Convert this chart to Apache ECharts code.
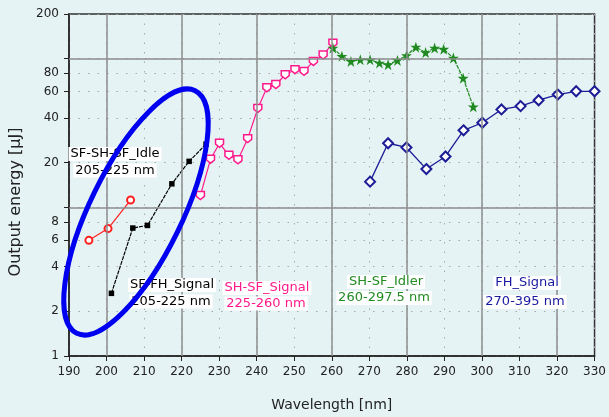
<!DOCTYPE html>
<html><head><meta charset="utf-8">
<script src="https://cdn.jsdelivr.net/npm/echarts@6/dist/echarts.min.js"></script>
<style>html,body{margin:0;padding:0;background:#e6f3f5;}#c{width:609px;height:417px;}</style>
</head><body><div id="c"></div>
<script>
// ---- data ----
const redX = [195.3, 200.4, 206.4];
const redY = [6.0, 7.2, 11.2];
const blackX = [201.3, 207.0, 210.9, 217.4, 222.0, 226.5];
const blackY = [2.64, 7.26, 7.56, 14.4, 20.4, 26.6];
const pinkX = [225.0, 227.7, 230.1, 232.6, 235.0, 237.6, 240.3, 242.7, 245.1, 247.6, 250.2, 252.6, 255.1, 257.7, 260.3];
const pinkY = [12.0, 21.1, 27.0, 22.4, 20.9, 29.0, 46.3, 63.7, 67, 78, 84.4, 82.2, 95.9, 106, 127];
const greenX = [260.3, 262.7, 265.1, 267.6, 270.2, 272.7, 275.0, 277.5, 279.9, 282.4, 285.0, 287.4, 289.8, 292.4, 295.0, 297.7];
const greenY = [118, 104, 96, 98.5, 98.5, 93.6, 91.2, 97.5, 105, 119.7, 110, 118, 116, 101, 74, 47.5];
const navyX = [270.2, 275.0, 279.9, 285.2, 290.3, 295.1, 300.1, 305.2, 310.3, 315.1, 320.2, 325.1, 330.0];
const navyY = [14.9, 27.0, 25.3, 18.1, 22.0, 33.0, 37.1, 45.6, 48.0, 52.6, 57.4, 60.4, 60.4];
const yLabelValues = [1, 2, 4, 6, 8, 20, 40, 60, 80, 200];
const yTickValues = [1, 2, 4, 6, 8, 10, 20, 40, 60, 80, 100, 200];
const yMajorLines = [10, 100];
const xMajorLines = [200, 220, 240, 260, 280, 300, 320];

const pairs = (xs, ys) => xs.map((x, i) => [x, ys[i]]);
const FONT = '"DejaVu Sans", sans-serif';
const star = 'path://M5,0L6.2,3.6L10,3.6L6.9,5.8L8.1,9.5L5,7.2L1.9,9.5L3.1,5.8L0,3.6L3.8,3.6Z';
const shield = 'path://M0,0L10,0L10,6L5,10L0,6Z';

const chart = echarts.init(document.getElementById('c'), null, {renderer: 'canvas'});

function lbl(text, x, y, color) {
  return {type: 'text', x: x, y: y, z: 20, silent: true,
    style: {text: text, fill: color, font: '13px ' + FONT, align: 'center', verticalAlign: 'middle',
      backgroundColor: '#ffffff', padding: [1, 2, 0, 2]}};
}

const dotted = {color: '#a8a8a8', width: 1, type: [1.5, 8]};

chart.setOption({
  backgroundColor: '#e6f3f5',
  animation: false,
  grid: {left: 68, right: 11, top: 14, bottom: 59, show: true, borderColor: '#333', borderWidth: 1.5, backgroundColor: 'transparent'},
  xAxis: {
    type: 'value', min: 190, max: 330, interval: 10,
    name: 'Wavelength [nm]', nameLocation: 'middle', nameGap: 42,
    nameTextStyle: {fontFamily: FONT, fontSize: 14, color: '#222'},
    axisLine: {lineStyle: {color: '#222', width: 1.5}},
    axisTick: {show: true, length: 5, lineStyle: {color: '#222'}},
    axisLabel: {fontFamily: FONT, fontSize: 12, color: '#222', margin: 10},
    splitLine: {show: true, lineStyle: dotted}
  },
  yAxis: {
    type: 'log', logBase: 10, min: 1, max: 200,
    name: 'Output energy [\u03bcJ]', nameLocation: 'middle', nameGap: 45,
    nameTextStyle: {fontFamily: FONT, fontSize: 16, color: '#222', padding: [0, 34, 0, 0]},
    axisLine: {lineStyle: {color: '#222', width: 1.5}},
    axisTick: {show: true, length: 5, customValues: yTickValues, lineStyle: {color: '#222'}},
    axisLabel: {fontFamily: FONT, fontSize: 12, color: '#222', margin: 10, customValues: yLabelValues},
    splitLine: {show: true, lineStyle: dotted}
  },
  series: [
    {type: 'line', data: [], silent: true,
      markLine: {silent: true, symbol: 'none', label: {show: false}, animation: false,
        lineStyle: {color: '#8c8c8c', width: 1.5, type: 'solid'},
        data: yMajorLines.map(v => ({yAxis: v})).concat(xMajorLines.map(v => ({xAxis: v})))}},
    {type: 'line', data: pairs(redX, redY), symbol: 'emptyCircle', symbolSize: 7,
      lineStyle: {color: '#ff2020', width: 1.2}, itemStyle: {color: '#ff2020', borderWidth: 1.3}},
    {type: 'line', data: pairs(blackX, blackY), symbol: 'rect', symbolSize: 5.5,
      lineStyle: {color: '#000', width: 1.2, type: [4, 1]}, itemStyle: {color: '#000'}},
    {type: 'line', data: pairs(pinkX, pinkY), symbol: shield, symbolSize: 8,
      lineStyle: {color: '#ff1a8c', width: 1.2}, itemStyle: {color: '#ffffff', borderColor: '#ff1a8c', borderWidth: 1.5}},
    {type: 'line', data: pairs(greenX, greenY), symbol: star, symbolSize: 11,
      lineStyle: {color: '#1f8a1f', width: 1.2, type: [4, 1]}, itemStyle: {color: '#1f8a1f'}},
    {type: 'line', data: pairs(navyX, navyY), symbol: 'emptyDiamond', symbolSize: 10,
      lineStyle: {color: '#1c1c96', width: 1.3}, itemStyle: {color: '#1c1c96', borderWidth: 1.3}}
  ],
  graphic: [
    lbl('SF-SH-SF_Idle', 115, 154, '#000'),
    lbl('205-225 nm', 115, 170.5, '#000'),
    lbl('SF-FH_Signal', 172, 285, '#000'),
    lbl('205-225 nm', 171, 301.5, '#000'),
    lbl('SH-SF_Signal', 267, 288, '#ff1a8c'),
    lbl('225-260 nm', 266, 303.5, '#ff1a8c'),
    lbl('SH-SF_Idler', 386, 282, '#228b22'),
    lbl('260-297.5 nm', 384, 298, '#228b22'),
    lbl('FH_Signal', 527, 283, '#1a1aa0'),
    lbl('270-395 nm', 525, 302, '#1a1aa0'),
    {type: 'ellipse', x: 136, y: 212, rotation: 64 * Math.PI / 180, z: 30, silent: true,
      shape: {cx: 0, cy: 0, rx: 135, ry: 46},
      style: {fill: 'none', stroke: '#0000f0', lineWidth: 5}}
  ]
});
</script></body></html>
